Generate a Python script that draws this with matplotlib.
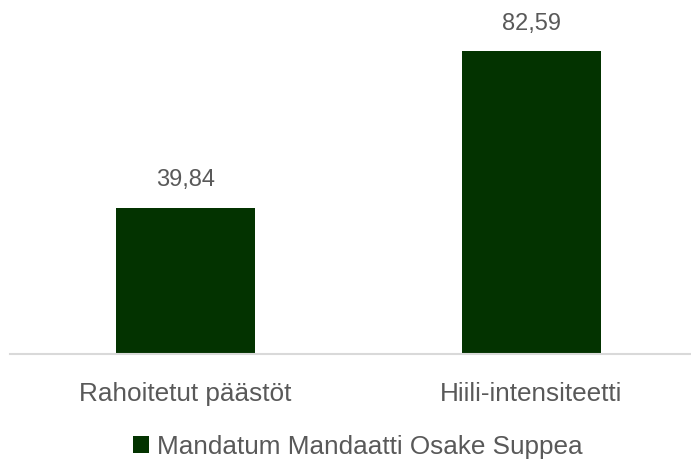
import matplotlib
matplotlib.use("Agg")
import matplotlib.pyplot as plt
from matplotlib import font_manager

categories = ["Rahoitetut päästöt", "Hiili-intensiteetti"]
values = [39.84, 82.59]
value_labels = ["39,84", "82,59"]
series_name = "Mandatum Mandaatti Osake Suppea"

names = {f.name for f in font_manager.fontManager.ttflist}
fam = "Liberation Sans Narrow" if "Liberation Sans Narrow" in names else "Liberation Sans"
plt.rcParams["font.family"] = [fam, "DejaVu Sans"]

W, H = 691, 467
fig = plt.figure(figsize=(W / 100, H / 100), dpi=100)
left, right = 10, 690
base, top = 354, 10
ax = fig.add_axes([left / W, 1 - base / H, (right - left) / W, (base - top) / H])

color = "#033300"
txt = "#595959"
x = list(range(len(categories)))
bars = ax.bar(x, values, width=0.402, color=color, label=series_name)
ax.set_xlim(-0.508, 1.460)
ax.set_ylim(0, (base - top) / 3.665)

for xi, v, lab in zip(x, values, value_labels):
    ax.annotate(lab, (xi, v), xytext=(0, 12), textcoords="offset points",
                ha="center", va="bottom", fontsize=17, color=txt)

for s in ["top", "right", "left"]:
    ax.spines[s].set_visible(False)
ax.spines["bottom"].set_color("#d9d9d9")
ax.spines["bottom"].set_linewidth(1.5)
ax.set_yticks([])
ax.set_xticks(x)
ax.set_xticklabels(categories, fontsize=18.8, color=txt)
ax.tick_params(axis="x", length=0, pad=20)

leg = fig.legend(handles=[bars], labels=[series_name], loc="center",
                 bbox_to_anchor=(0.5 + 12 / W, 1 - 447 / H), frameon=False,
                 fontsize=18.8, handlelength=0.61, handleheight=0.61,
                 handletextpad=0.31, labelcolor=txt)

fig.savefig("out.png", dpi=100)
